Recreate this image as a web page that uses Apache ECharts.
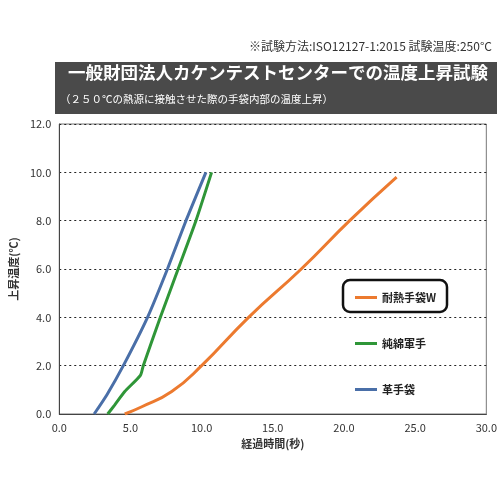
<!DOCTYPE html><html><head><meta charset="utf-8"><script src="https://cdn.jsdelivr.net/npm/echarts@6/dist/echarts.min.js"></script></head><body style="margin:0"><div id="c" style="width:500px;height:500px"></div><script>
const blue=[[2.45,0],[3.35,0.8],[4.5,2],[6.2,4],[7.6,6],[8.9,8],[10.3,10]];
const green=[[3.4,0],[3.9,0.38],[4.6,0.93],[5.7,1.6],[5.9,2],[7.1,4],[8.35,6],[9.6,8],[10.7,10]];
const orange=[[4.6,0],[5.8,0.3],[7.9,0.93],[10.0,2],[13.3,4],[17.0,6],[20.4,8],[23.7,9.8]];
const names=['耐熱手袋W','純綿軍手','革手袋'];
const F='"Noto Sans CJK JP"';
const ch=echarts.init(document.getElementById('c'));
ch.setOption({
animation:false,
textStyle:{fontFamily:F},
grid:{left:57,right:13,top:124,bottom:86,show:true,borderColor:'#777',borderWidth:1},
xAxis:{type:'value',min:0,max:30,interval:5,name:'経過時間(秒)',nameLocation:'middle',nameGap:18,nameTextStyle:{fontSize:11,color:'#333',fontWeight:'bold'},
axisLabel:{formatter:v=>v.toFixed(1),fontSize:11,color:'#333'},axisLine:{lineStyle:{color:'#444'}},axisTick:{show:false},splitLine:{show:false}},
yAxis:{type:'value',min:0,max:12,interval:2,name:'上昇温度(℃)',nameLocation:'middle',nameGap:36,nameTextStyle:{fontSize:11,color:'#333',fontWeight:'bold'},
axisLabel:{formatter:v=>v.toFixed(1),fontSize:11,color:'#333'},axisLine:{show:true,lineStyle:{color:'#444'}},axisTick:{show:false},splitLine:{lineStyle:{type:[2,3],color:'#222'}}},
legend:{orient:'vertical',left:350,top:287,itemGap:35,itemWidth:22,itemHeight:3,icon:'rect',data:names,textStyle:{fontSize:11,fontWeight:'bold',color:'#222'}},
series:[
{name:names[0],type:'line',data:orange,smooth:true,showSymbol:false,lineStyle:{width:3,color:'#ec7a2f'},itemStyle:{color:'#ec7a2f'}},
{name:names[1],type:'line',data:green,smooth:0.2,showSymbol:false,lineStyle:{width:3,color:'#2f9638'},itemStyle:{color:'#2f9638'}},
{name:names[2],type:'line',data:blue,smooth:0.2,showSymbol:false,lineStyle:{width:3,color:'#4a6fa8'},itemStyle:{color:'#4a6fa8'}}],
graphic:[
{type:'text',right:8,top:40,style:{text:'※試験方法:ISO12127-1:2015 試験温度:250°C',fontSize:12,fill:'#333',fontFamily:F}},
{type:'rect',shape:{x:55,y:62,width:442,height:52},style:{fill:'#4a4a4a'}},
{type:'text',left:68,top:64,style:{text:'一般財団法人カケンテストセンターでの温度上昇試験',fontSize:17.5,fontWeight:'bold',fill:'#fff',fontFamily:F}},
{type:'text',left:60,top:94,style:{text:'（２５０℃の熱源に接触させた際の手袋内部の温度上昇）',fontSize:10.5,fill:'#fff',fontFamily:F}},
{type:'rect',shape:{x:343,y:280,width:104,height:32,r:7},style:{fill:'none',stroke:'#111',lineWidth:2.5}}
]});
</script></body></html>
